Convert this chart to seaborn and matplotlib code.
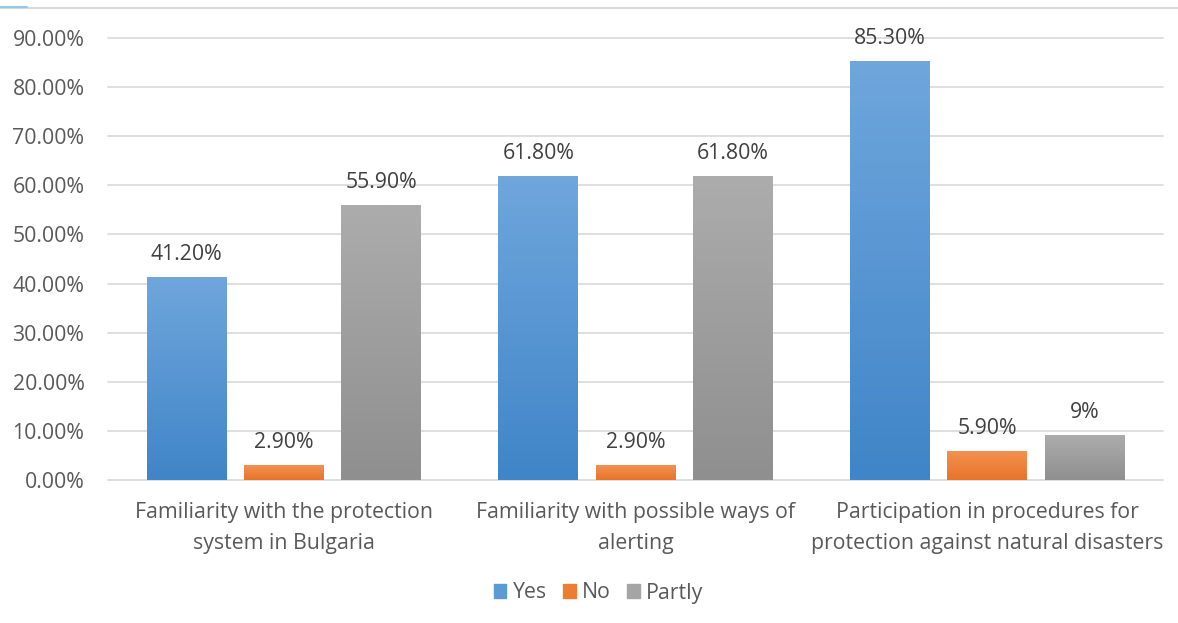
import numpy as np
import pandas as pd
import matplotlib
matplotlib.use("Agg")
import matplotlib.pyplot as plt
import seaborn as sns
from matplotlib.colors import LinearSegmentedColormap
from matplotlib.lines import Line2D
from matplotlib.ticker import FuncFormatter

# === DATOS ===
categories = [
    "Familiarity with the protection\nsystem in Bulgaria",
    "Familiarity with possible ways of\nalerting",
    "Participation in procedures for\nprotection against natural disasters",
]
series = ["Yes", "No", "Partly"]
yes = [0.412, 0.618, 0.853]
no = [0.029, 0.029, 0.059]
partly = [0.559, 0.618, 0.09]
labels_yes = ["41.20%", "61.80%", "85.30%"]
labels_no = ["2.90%", "2.90%", "5.90%"]
labels_partly = ["55.90%", "61.80%", "9%"]
y_ticks = [0.0, 0.1, 0.2, 0.3, 0.4, 0.5, 0.6, 0.7, 0.8, 0.9]

df = pd.DataFrame({
    "category": categories * 3,
    "series": ["Yes"] * 3 + ["No"] * 3 + ["Partly"] * 3,
    "value": yes + no + partly,
})
value_labels = {"Yes": labels_yes, "No": labels_no, "Partly": labels_partly}

# colores: (arriba, abajo) para el degradado
grad_colors = {
    "Yes": ("#6fa6dc", "#4085c8"),
    "No": ("#f29150", "#e8742a"),
    "Partly": ("#acacac", "#8f8f8f"),
}
palette = {"Yes": "#5b9bd5", "No": "#ed7d31", "Partly": "#a5a5a5"}

# === ESTILO ===
sns.set_theme(style="white")
plt.rcParams["font.family"] = ["Open Sans", "DejaVu Sans"]
text_color = "#595959"
fs = 15.3

fig = plt.figure(figsize=(11.78, 6.23), dpi=100)
ax = fig.add_axes([0.0917, 0.2295, 0.8956, 0.7095])

sns.barplot(data=df, x="category", y="value", hue="series",
            order=categories, hue_order=series, palette=palette,
            width=0.83, gap=0.18, ax=ax, legend=False)

# degradado vertical en cada barra
for cont, name in zip(ax.containers, series):
    top, bottom = grad_colors[name]
    cmap = LinearSegmentedColormap.from_list(name, [bottom, top])
    for bar in cont:
        x, w, h = bar.get_x(), bar.get_width(), bar.get_height()
        grad = np.linspace(0, 1, 100).reshape(-1, 1)
        ax.imshow(grad, extent=[x, x + w, 0, h], origin="lower",
                  aspect="auto", cmap=cmap, zorder=2)
        bar.set_alpha(0)
    ax.bar_label(cont, labels=value_labels[name], padding=9,
                 fontsize=fs, color="#404040")

ax.set_xlim(-0.5, 2.5)
ax.set_ylim(0, 0.9)

ax.set_yticks(y_ticks)
ax.yaxis.set_major_formatter(FuncFormatter(lambda v, _: f"{v * 100:.2f}%"))
ax.yaxis.grid(True, color="#d9d9d9", linewidth=1.2)
ax.set_axisbelow(True)
for gl in ax.get_ygridlines():
    gl.set_clip_on(False)
for s in ax.spines.values():
    s.set_visible(False)

ax.tick_params(axis="y", length=0, pad=17, labelsize=fs, labelcolor=text_color)
ax.tick_params(axis="x", length=0, pad=16, labelsize=fs, labelcolor=text_color)
for t in ax.get_xticklabels():
    t.set_linespacing(1.6)
ax.set_xlabel("")
ax.set_ylabel("")

# leyenda
handles = [plt.Rectangle((0, 0), 1, 1, color=palette[s]) for s in series]
fig.legend(handles, series, loc="center", bbox_to_anchor=(0.508, 1 - 593 / 623),
           ncol=3, frameon=False, fontsize=fs, labelcolor=text_color,
           handlelength=0.6, handleheight=0.6, handletextpad=0.3,
           columnspacing=0.75)

# línea superior del marco
fig.add_artist(Line2D([0, 1], [1 - 8 / 623] * 2, transform=fig.transFigure,
                      color="#d9d9d9", linewidth=1.5))
fig.add_artist(Line2D([0, 27 / 1178], [1 - 7 / 623] * 2, transform=fig.transFigure,
                      color="#8fcbe8", linewidth=1.5))

fig.savefig("out.png", dpi=100)
